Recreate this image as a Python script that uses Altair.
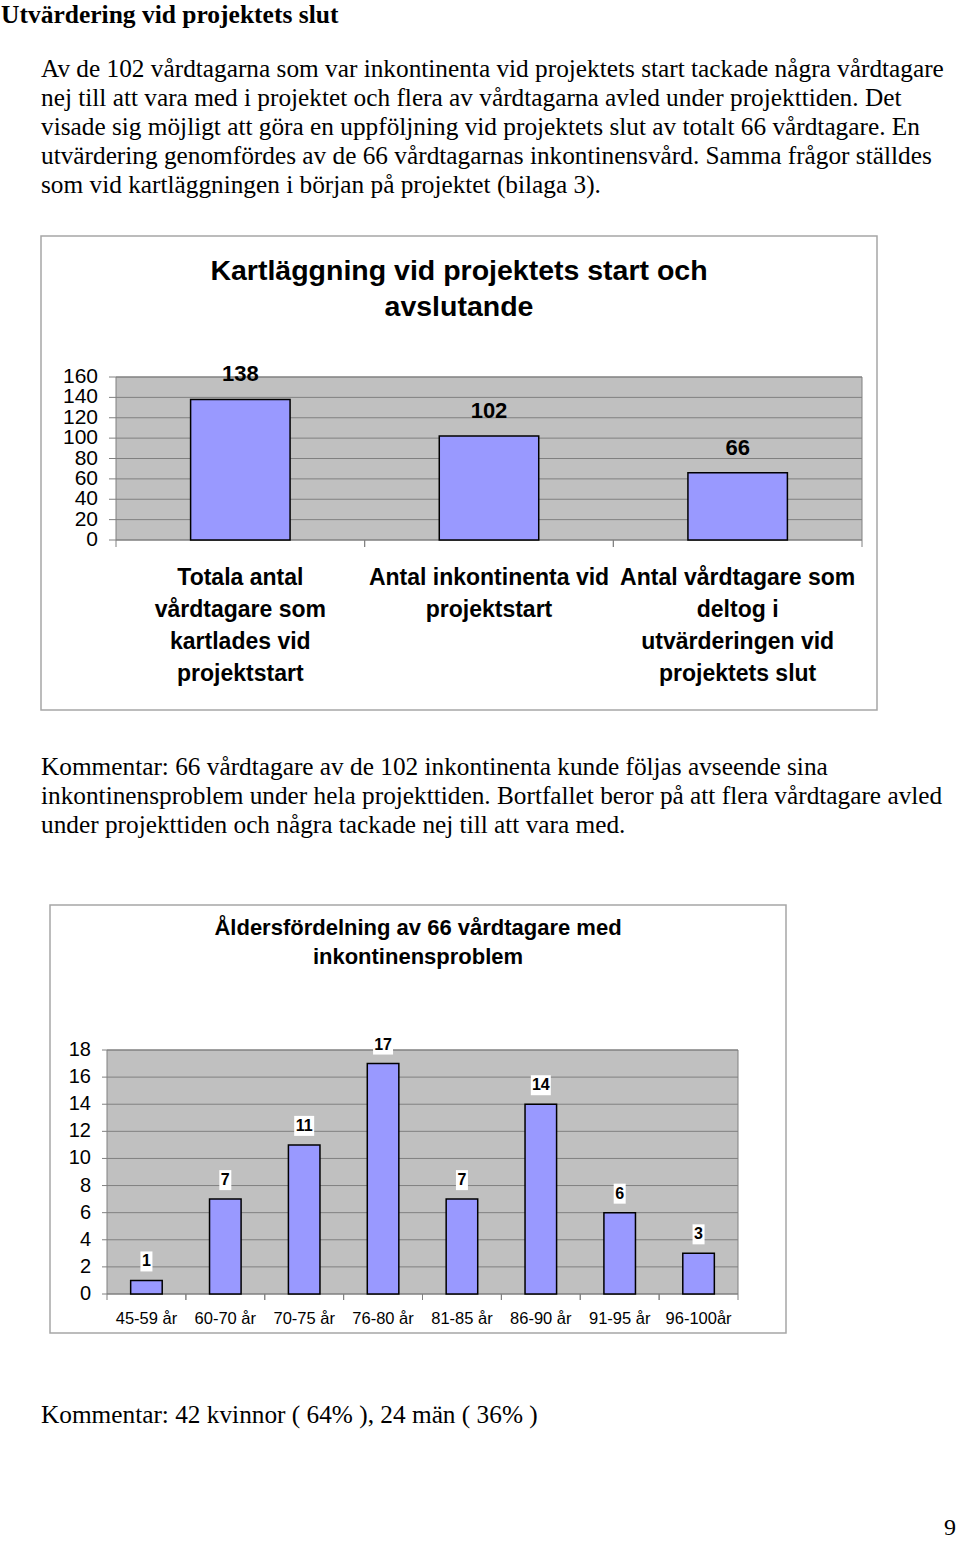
import altair as alt
import pandas as pd

# ---------------- data ----------------
heading = ["Utvärdering vid projektets slut"]
intro_lines = [
    "Av de 102 vårdtagarna som var inkontinenta vid projektets start tackade några vårdtagare",
    "nej till att vara med i projektet och flera av vårdtagarna avled under projekttiden. Det",
    "visade sig möjligt att göra en uppföljning vid projektets slut av totalt 66 vårdtagare. En",
    "utvärdering genomfördes av de 66 vårdtagarnas inkontinensvård. Samma frågor ställdes",
    "som vid kartläggningen i början på projektet (bilaga 3).",
]
comment1_lines = [
    "Kommentar: 66 vårdtagare av de 102 inkontinenta kunde följas avseende sina",
    "inkontinensproblem under hela projekttiden. Bortfallet beror på att flera vårdtagare avled",
    "under projekttiden och några tackade nej till att vara med.",
]
comment2_lines = ["Kommentar: 42 kvinnor ( 64% ), 24 män ( 36% )"]
page_number = ["9"]

c1_title = ["Kartläggning vid projektets start och", "avslutande"]
c1_categories = [
    "Totala antal|vårdtagare som|kartlades vid|projektstart",
    "Antal inkontinenta vid|projektstart",
    "Antal vårdtagare som|deltog i|utvärderingen vid|projektets slut",
]
c1_values = [138, 102, 66]
c1_ticks = [0, 20, 40, 60, 80, 100, 120, 140, 160]

c2_title = ["Åldersfördelning av 66 vårdtagare med", "inkontinensproblem"]
c2_categories = ["45-59 år", "60-70 år", "70-75 år", "76-80 år",
                 "81-85 år", "86-90 år", "91-95 år", "96-100år"]
c2_values = [1, 7, 11, 17, 7, 14, 6, 3]
c2_ticks = [0, 2, 4, 6, 8, 10, 12, 14, 16, 18]

# ---------------- layout / style ----------------
PAGE_W, PAGE_H = 960, 1543
SERIF = "Liberation Serif"
SANS = "Liberation Sans"
BAR_FILL = "#9999FF"
PLOT_BG = "#C0C0C0"
GRID = "#808080"
FRAME = "#A6A6A6"

ONE = alt.Data(values=[{"k": 0}])


def text_block(lines, x, y, size, font, weight="normal", lh=None, align="left"):
    return alt.Chart(ONE).mark_text(
        text=lines, align=align, baseline="alphabetic", font=font,
        fontSize=size, fontWeight=weight, lineHeight=lh or size * 1.2,
        color="black",
    ).encode(x=alt.value(x), y=alt.value(y))


def bar_panel(cats, vals, ticks, box, plot, title_lines, title_y, title_size,
              title_lh, ylab_size, ytick, ypad, xlab_size, xlab_weight, xlab_lh,
              xtick, xpad, val_size, val_dy, label_boxes):
    df = pd.DataFrame({"cat": cats, "val": vals})
    tick_df = pd.DataFrame({"tick": ticks})
    bx0, by0, bx1, by1 = box
    x0, y0, x1, y1 = plot
    step = (x1 - x0) / len(cats)

    xscale = alt.Scale(domain=cats, range=[x0, x1], paddingInner=0.6,
                       paddingOuter=0.3)
    yscale = alt.Scale(domain=[ticks[0], ticks[-1]], range=[y1, y0],
                       nice=False, zero=True)

    def X():
        return alt.X("cat:N", scale=xscale, sort=cats, axis=None)

    def Y(field="val:Q"):
        return alt.Y(field, scale=yscale, axis=None)

    frame = alt.Chart(ONE).mark_rect(
        filled=False, stroke=FRAME, strokeWidth=1.5
    ).encode(x=alt.value(bx0), x2=alt.value(bx1),
             y=alt.value(by0), y2=alt.value(by1))

    title = alt.Chart(ONE).mark_text(
        text=title_lines, align="center", baseline="alphabetic", font=SANS,
        fontSize=title_size, fontWeight="bold", lineHeight=title_lh,
        color="black",
    ).encode(x=alt.value((bx0 + bx1) / 2), y=alt.value(title_y))

    plot_bg = alt.Chart(ONE).mark_rect(
        fill=PLOT_BG, stroke=GRID, strokeWidth=1
    ).encode(x=alt.value(x0), x2=alt.value(x1),
             y=alt.value(y0), y2=alt.value(y1))

    grid = alt.Chart(tick_df).mark_rule(color=GRID, strokeWidth=1).encode(
        y=Y("tick:Q"), x=alt.value(x0), x2=alt.value(x1),
    )

    # y-axis ticks and labels drawn through the y scale
    yticks = alt.Chart(tick_df).mark_rule(color=GRID, strokeWidth=1).encode(
        y=Y("tick:Q"), x=alt.value(x0 - ytick), x2=alt.value(x0),
    )
    ylabels = alt.Chart(tick_df).mark_text(
        align="right", baseline="middle", font=SANS, fontSize=ylab_size,
        color="black",
    ).encode(y=Y("tick:Q"), x=alt.value(x0 - ytick - ypad),
             text=alt.Text("tick:Q"))

    # x-axis ticks at category boundaries, labels at band centres
    xticks = [
        alt.Chart(df).mark_rule(color=GRID, strokeWidth=1, xOffset=off).encode(
            x=X(), y=alt.value(y1), y2=alt.value(y1 + xtick),
        )
        for off in (-step / 2, step / 2)
    ]
    xlabels = alt.Chart(df).mark_text(
        align="center", baseline="top", lineBreak="|", font=SANS,
        fontSize=xlab_size, fontWeight=xlab_weight, lineHeight=xlab_lh,
        color="black",
    ).encode(x=X(), y=alt.value(y1 + xtick + xpad), text="cat:N")

    bars = alt.Chart(df).mark_bar(
        fill=BAR_FILL, stroke="black", strokeWidth=1.5
    ).encode(x=X(), y=Y())

    layers = [frame, title, plot_bg, grid, yticks, ylabels, *xticks, xlabels,
              bars]

    if label_boxes:
        for cond, w in (("datum.val < 10", 12), ("datum.val >= 10", 20)):
            layers.append(
                alt.Chart(df).transform_filter(cond).mark_rect(
                    fill="white", width=w, height=20, yOffset=val_dy
                ).encode(x=X(), y=Y())
            )

    labels = alt.Chart(df).mark_text(
        dy=val_dy, baseline="middle", font=SANS, fontSize=val_size,
        fontWeight="bold", color="black",
    ).encode(x=X(), y=Y(), text=alt.Text("val:Q"))
    layers.append(labels)
    return alt.layer(*layers)


chart1 = bar_panel(
    c1_categories, c1_values, c1_ticks,
    box=(41, 236, 877, 710), plot=(116, 377, 862, 540),
    title_lines=c1_title, title_y=280, title_size=28.5, title_lh=36,
    ylab_size=21, ytick=7, ypad=11,
    xlab_size=23, xlab_weight="bold", xlab_lh=32, xtick=7, xpad=20,
    val_size=22, val_dy=-25, label_boxes=False,
)

chart2 = bar_panel(
    c2_categories, c2_values, c2_ticks,
    box=(50, 905, 786, 1333), plot=(107, 1050, 738, 1294),
    title_lines=c2_title, title_y=935, title_size=22, title_lh=29,
    ylab_size=20, ytick=5, ypad=11,
    xlab_size=16.5, xlab_weight="normal", xlab_lh=19, xtick=6, xpad=11,
    val_size=16, val_dy=-19, label_boxes=True,
)

texts = [
    text_block(heading, 1, 23, 25.5, SERIF, weight="bold"),
    text_block(intro_lines, 41, 77, 25.3, SERIF, lh=29),
    text_block(comment1_lines, 41, 775, 25.3, SERIF, lh=29),
    text_block(comment2_lines, 41, 1423, 25.3, SERIF),
    text_block(page_number, 956, 1535, 24, SERIF, align="right"),
]

chart = alt.layer(*texts, chart1, chart2).resolve_scale(
    x="independent", y="independent"
).properties(
    width=PAGE_W, height=PAGE_H, padding=0,
    autosize=alt.AutoSizeParams(type="none"),
).configure(background="white").configure_view(stroke=None)

chart.save("out.html", embed_options={"renderer": "svg", "actions": False})
